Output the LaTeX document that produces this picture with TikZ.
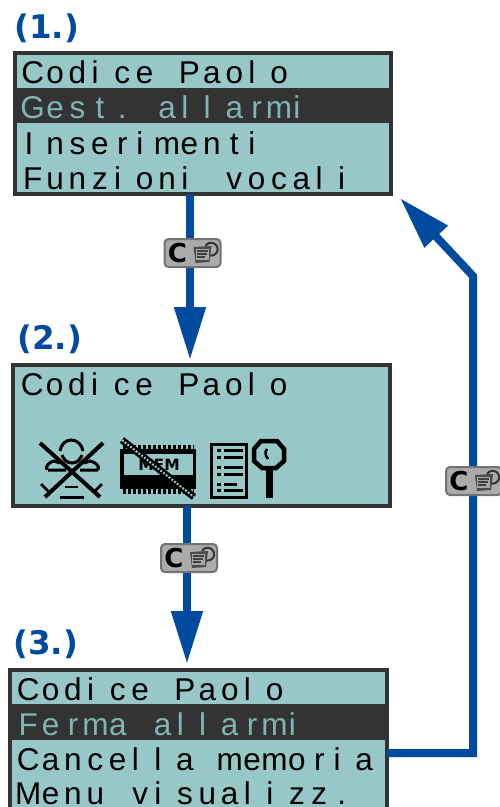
\documentclass[tikz,border=0pt]{standalone}
\usepackage{fontspec}
\setmainfont{Liberation Sans}
\newfontfamily\labfont{DejaVu Sans}
\usetikzlibrary{arrows.meta,calc}
\definecolor{lcd}{HTML}{97C8C7}
\definecolor{frame}{HTML}{333333}
\definecolor{flow}{HTML}{004B9F}
\definecolor{lcdtext}{HTML}{7FB5B3}
\definecolor{btn}{HTML}{ABABAB}
\newcommand{\narrowcell}[1]{\makebox[22.4pt][l]{\hspace{3pt}#1}}
\newcommand{\widecell}[1]{\makebox[22.4pt][c]{#1}}
\def\cellloop#1{\ifx#1\relax\else
  \ifx#1i\narrowcell{#1}\else\ifx#1l\narrowcell{#1}\else\ifx#1I\narrowcell{#1}\else\widecell{#1}\fi\fi\fi
  \expandafter\cellloop\fi}
\newcommand{\lcdline}[1]{\cellloop#1\relax}
\tikzset{
  x=1pt,y=-1pt,
  lcdbox/.style={draw=frame,line width=4pt,fill=lcd,minimum width=376pt,anchor=north west,inner sep=0pt,outer sep=0pt},
  rowtxt/.style={anchor=base west,inner sep=0pt,outer sep=0pt,font=\fontsize{31.5}{31.5}\selectfont,text=black},
  steplab/.style={anchor=base west,inner sep=0pt,font=\labfont\bfseries\fontsize{32.5}{32.5}\selectfont,text=flow},
  flowline/.style={draw=flow,line width=8pt,-{Triangle[length=53pt,width=30pt]}},
  ic/.style={line width=3pt,black,line cap=butt},
  btnbox/.style={draw=black!55,fill=btn,line width=2pt,rounded corners=4pt,minimum width=56pt,minimum height=28pt,inner sep=0pt},
}
\newcommand{\keybutton}[2]{%
  \node[btnbox] (#1) at (#2) {};
  \node[inner sep=0pt,font=\labfont\bfseries\fontsize{26}{26}\selectfont] (#1c) at ($(#1)+(-15,0)$) {C};
  \fill[black!70] ($(#1)+(1,-6)$) -- ++(18,-1) -- ++(-2,16) -- ++(-14,1) -- cycle;
  \fill[black!35] ($(#1)+(3,-4)$) rectangle ++(13,11);
  \draw[black!75,line width=1.2pt] ($(#1)+(4,-2)$) -- ++(11,0) ($(#1)+(4,1)$) -- ++(10,0) ($(#1)+(4,4)$) -- ++(8,0);
  \draw[black!80,line width=2pt] ($(#1)+(13,-7)$) arc[start angle=150,end angle=-100,radius=6.5pt];
}
\begin{document}
\begin{tikzpicture}
\useasboundingbox (0,0) rectangle (499,807);
\fill[white] (0,0) rectangle (499,807);

% connector end points
\coordinate (x1) at (190,0);
\coordinate (x2) at (187,0);
\coordinate (turn1) at (473,753);
\coordinate (turn2) at (473,276);
\coordinate (tip3) at (400,198);

% screen 1
\node[lcdbox,minimum height=141pt] (s1) at (14.5,53) {};
\fill[frame] (15,88) rectangle (390,123);
\node[rowtxt] (s1a) at (21.5,83) {\lcdline{Codice~Paolo}};
\node[rowtxt,text=lcdtext] (s1b) at (21.5,118) {\lcdline{Gest.~allarmi}};
\node[rowtxt] (s1c) at (21.5,154) {\lcdline{Inserimenti}};
\node[rowtxt] (s1d) at (21.5,189) {\lcdline{Funzioni~vocali}};

% screen 2
\node[lcdbox,minimum width=377pt,minimum height=141pt] (s2) at (13,365) {};
\node[rowtxt] (s2a) at (21,395) {\lcdline{Codice~Paolo}};

% icons of screen 2
\begin{scope}
% crossed figure
\draw[ic,line width=4pt] (40,443) -- (100,497) (103,443) -- (45,497);
\draw[ic] (60,451) to[out=80,in=180] (71,440) to[out=0,in=100] (83,451);
\draw[ic] (62,455) to[out=-70,in=180] (72,463) to[out=0,in=250] (82,455);
\draw[ic] (47,470) to[out=120,in=190] (54,461) -- (60,463) (48,470) -- (66,470);
\draw[ic] (98,470) to[out=60,in=-10] (90,461) -- (84,463) (98,470) -- (80,470);
\draw[ic,line width=2.5pt] (41,484) -- (48,491) (102,484) -- (95,491);
\draw[ic,line width=2.5pt] (65,487) -- (78,487);
\draw[ic] (60,497) -- (84,497);
% crossed memory chip
\fill[black] (120,449) rectangle (196,489);
\fill[lcd] (124,454) rectangle (193,475);
\draw[black,line width=5pt,dash pattern=on 2.5pt off 2.5pt] (123,447) -- (194,447) (123,491) -- (194,491);
\node[inner sep=0pt,font=\labfont\bfseries\fontsize{15.5}{15.5}\selectfont] (mem) at (159,465) {MEM};
\draw[black,line width=7pt] (122,440) -- (194,497);
\draw[lcd,line width=2pt,dash pattern=on 2pt off 1.5pt] (122,440) -- (194,497);
% list sheet
\draw[black,line width=3pt] (211,444) rectangle (246,497);
\foreach \yy/\ll in {450/24,457/24,467/24,474/24,484/18,490/24}{
  \fill[black] (217,\yy-1.5) rectangle (221,\yy+1.5);
  \fill[black] (224,\yy-1.5) rectangle (220+\ll-1,\yy+1.5);
}
% key
\draw[black,line width=4.5pt] (261,441) -- (277,441) -- (284,449) -- (284,461) -- (276,468) -- (262,468) -- (254,461) -- (254,449) -- cycle;
\fill[black] (266,469) rectangle (273,498);
\draw[black,line width=2.5pt] (267,449) to[out=230,in=130] (268,459);
\end{scope}

% screen 3
\node[lcdbox,minimum width=377pt,minimum height=160pt] (s3) at (10,670) {};
\fill[frame] (12,704) rectangle (385,740);
\node[rowtxt] (s3a) at (17,700) {\lcdline{Codice~Paolo}};
\node[rowtxt,text=lcdtext] (s3b) at (17,735) {\lcdline{Ferma~allarmi}};
\node[rowtxt] (s3c) at (17,770) {\lcdline{Cancella~memoria}};
\node[rowtxt] (s3d) at (17,804) {\lcdline{Menu~visualizz.}};

% step labels
\node[steplab] (l1) at (14,38) {(1.)};
\node[steplab] (l2) at (17,349) {(2.)};
\node[steplab] (l3) at (13,654) {(3.)};

% connectors
\draw[flowline,shorten >=5pt] (s1.south -| x1) -- (s2.north -| x1);
\draw[flowline,shorten >=6pt] (s2.south -| x2) -- (s3.north -| x2);
\draw[flowline,line join=miter] (s3.east |- turn1) -- (turn1) -- (turn2) -- (tip3);

% key buttons
\keybutton{k1}{192.5,253}
\keybutton{k2}{189,558}
\keybutton{k3}{474,481}
\end{tikzpicture}
\end{document}
